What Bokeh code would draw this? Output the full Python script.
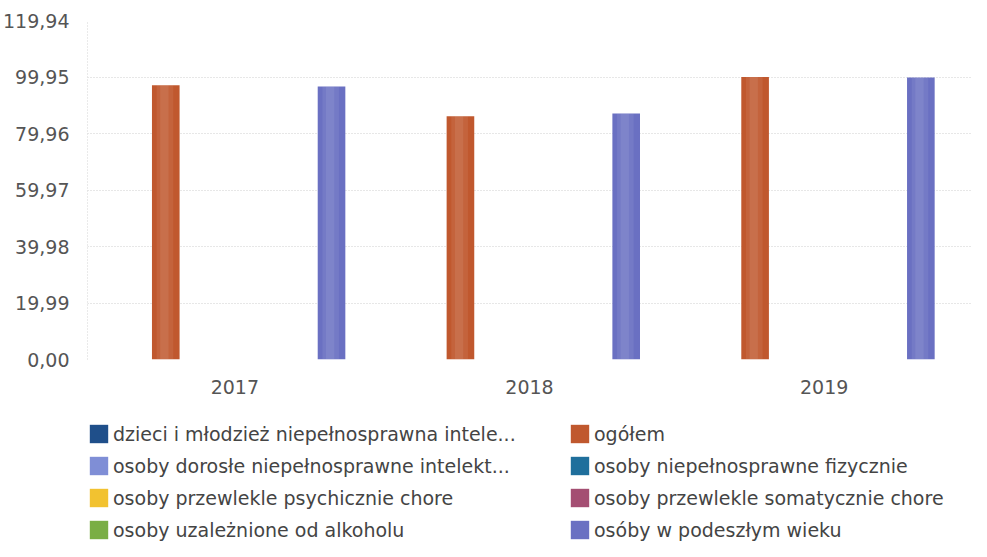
from bokeh.plotting import figure
from bokeh.models import FactorRange, Range1d, FixedTicker, Legend, LegendItem, ColumnDataSource
from bokeh.layouts import column
from bokeh.transform import dodge
from bokeh.embed import file_html
from bokeh.resources import INLINE

nan = float("nan")

years = ["2017", "2018", "2019"]

series_names = [
    "dzieci i młodzież niepełnosprawna intele...",
    "ogółem",
    "osoby dorosłe niepełnosprawne intelekt...",
    "osoby niepełnosprawne fizycznie",
    "osoby przewlekle psychicznie chore",
    "osoby przewlekle somatycznie chore",
    "osoby uzależnione od alkoholu",
    "osóby w podeszłym wieku",
]

dzieci = [nan, nan, nan]
ogolem = [97.0, 86.1, 99.95]
dorosle = [nan, nan, nan]
fizycznie = [nan, nan, nan]
psychicznie = [nan, nan, nan]
somatycznie = [nan, nan, nan]
uzaleznione = [nan, nan, nan]
podeszly = [96.6, 87.0, 99.8]

series_values = [dzieci, ogolem, dorosle, fizycznie, psychicznie, somatycznie, uzaleznione, podeszly]

series_colors = ["#1F4F8A", "#C0582E", "#7F8ED6", "#1F6F9C", "#F2C230", "#A44E72", "#7AAE45", "#6A70C2"]

# legend columns (indices into series lists)
legend_col1 = [0, 2, 4, 6]
legend_col2 = [1, 3, 5, 7]

y_ticks = [0.0, 19.99, 39.98, 59.97, 79.96, 99.95, 119.94]
y_tick_labels = ["0,00", "19,99", "39,98", "59,97", "79,96", "99,95", "119,94"]

FONT = "DejaVu Sans"
FS = "19px"

p = figure(
    x_range=FactorRange(*years, range_padding=0),
    y_range=Range1d(0, y_ticks[-1]),
    width=971, height=410,
    min_border_left=83, min_border_right=0, min_border_top=20, min_border_bottom=51,
    output_backend="svg", toolbar_location=None,
    outline_line_color=None, background_fill_color="white",
)

n = len(series_names)
group = 0.75
bw = group / n
for i, (name, vals, col) in enumerate(zip(series_names, series_values, series_colors)):
    src = ColumnDataSource(dict(x=years, top=vals))
    off = -group / 2 + (i + 0.5) * bw
    p.vbar(x=dodge("x", off, range=p.x_range), top="top", width=bw, source=src,
           fill_color=col, line_color=None)
    # soft cylindrical highlight
    p.vbar(x=dodge("x", off - bw * 0.03, range=p.x_range), top="top", width=bw * 0.6, source=src,
           fill_color="white", fill_alpha=0.07, line_color=None)
    p.vbar(x=dodge("x", off - bw * 0.05, range=p.x_range), top="top", width=bw * 0.3, source=src,
           fill_color="white", fill_alpha=0.08, line_color=None)

p.yaxis.ticker = FixedTicker(ticks=y_ticks)
p.yaxis.major_label_overrides = {t: l for t, l in zip(y_ticks, y_tick_labels)}
p.yaxis.major_tick_line_color = None
p.yaxis.minor_tick_line_color = None
p.yaxis.axis_line_color = "#D5D5D5"
p.yaxis.axis_line_dash = "1 2"
p.yaxis.major_label_text_font = FONT
p.yaxis.major_label_text_font_size = FS
p.yaxis.major_label_text_color = "#555555"
p.yaxis.major_label_standoff = 12

p.xaxis.axis_line_color = None
p.xaxis.major_tick_line_color = None
p.xaxis.minor_tick_line_color = None
p.xaxis.major_label_text_font = FONT
p.xaxis.major_label_text_font_size = FS
p.xaxis.major_label_text_color = "#555555"
p.xaxis.major_label_standoff = 14

p.xgrid.grid_line_color = None
p.ygrid.grid_line_color = "#CFCFCF"
p.ygrid.grid_line_dash = "1 2"

# legend figure
lg = figure(
    width=971, height=131,
    x_range=Range1d(0, 1), y_range=Range1d(0, 1),
    x_axis_location=None, y_axis_location=None,
    min_border_left=0, min_border_right=0, min_border_top=0, min_border_bottom=0,
    output_backend="svg", toolbar_location=None,
    outline_line_color=None, background_fill_color="white",
)
lg.grid.visible = False

legend_renderers = []
for name, col in zip(series_names, series_colors):
    src = ColumnDataSource(dict(x=[nan], top=[nan]))
    r = lg.vbar(x="x", top="top", width=1, source=src, fill_color=col, line_color=None)
    legend_renderers.append(r)

def make_legend(idx, loc):
    return Legend(
        items=[LegendItem(label=series_names[i], renderers=[legend_renderers[i]]) for i in idx],
        location=loc,
        label_text_font=FONT,
        label_text_font_size=FS,
        label_text_color="#444444",
        glyph_width=23, glyph_height=23,
        label_height=20, label_standoff=3,
        spacing=9,
        padding=0, margin=0,
        border_line_color=None, background_fill_alpha=0,
    )

leg1 = make_legend(legend_col1, (0, 0))
leg2 = make_legend(legend_col2, (481, 0))
lg.add_layout(leg1, "center")
lg.add_layout(leg2, "center")

layout = column(p, lg, spacing=0)
open("out.html", "w").write(file_html(layout, INLINE))
